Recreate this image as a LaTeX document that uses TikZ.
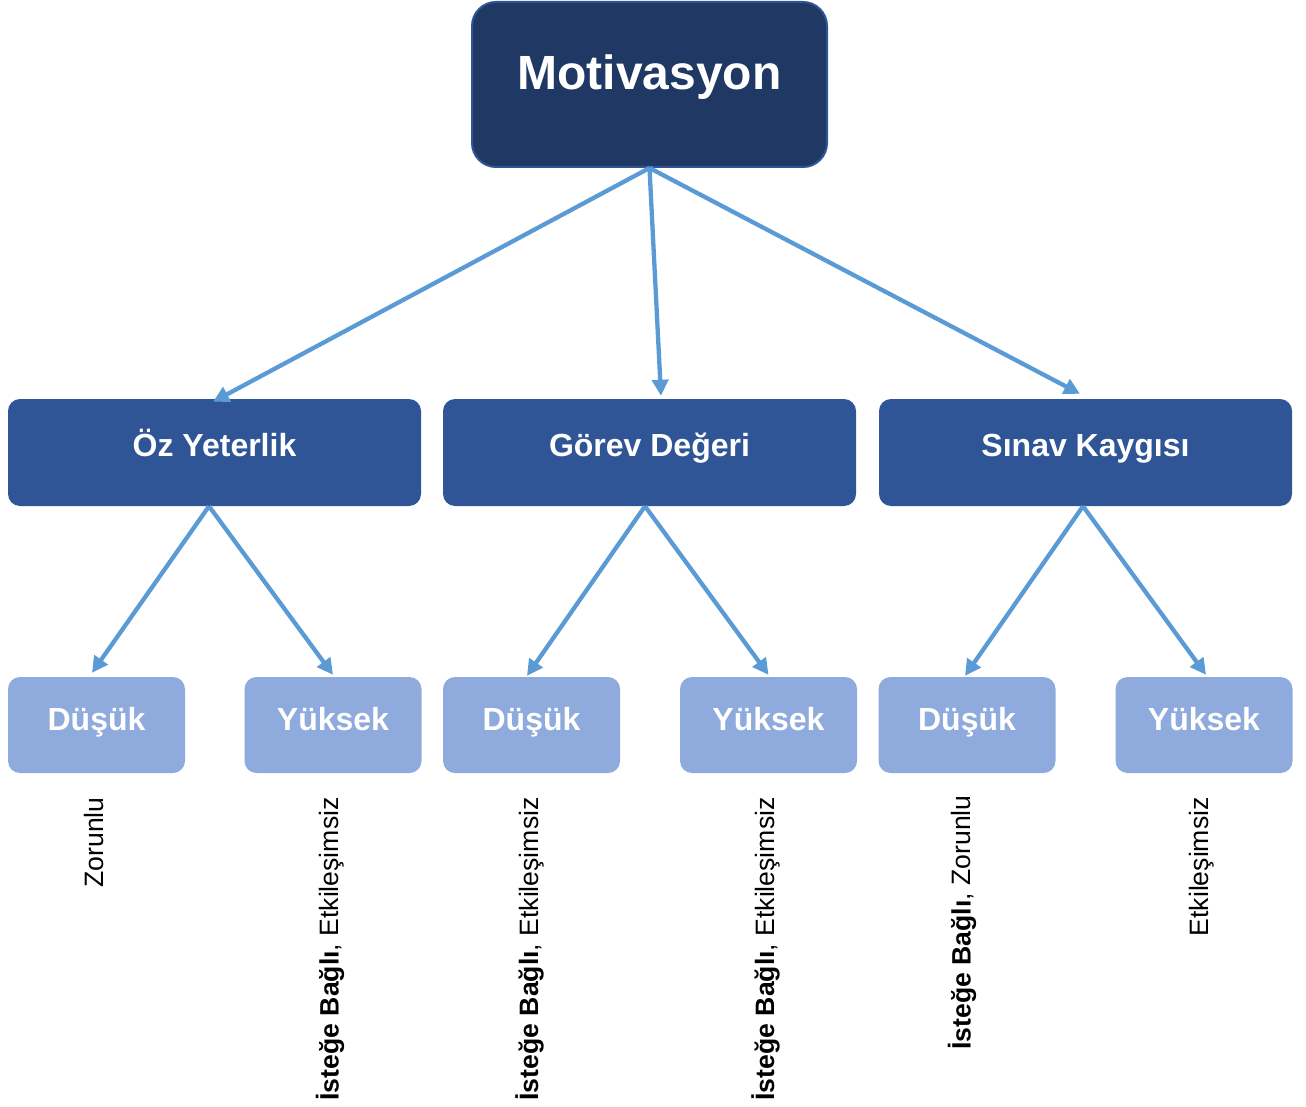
\documentclass[tikz,border=0pt]{standalone}
\usepackage{fontspec}
\setmainfont{Liberation Sans}
\usetikzlibrary{arrows.meta}

\definecolor{topblue}{HTML}{203864}
\definecolor{topedge}{HTML}{2F5597}
\definecolor{midblue}{HTML}{2F5597}
\definecolor{lowblue}{HTML}{8FAADC}
\definecolor{arrowblue}{HTML}{5B9BD5}

\begin{document}
\begin{tikzpicture}[x=1pt,y=-1pt,
		topbox/.style={draw=topedge, line width=2pt, fill=topblue, rounded corners=24pt,
			minimum width=355pt, minimum height=165pt, text=white,
			font=\bfseries\fontsize{48}{56}\selectfont, text height=36pt, text depth=25pt},
		midbox/.style={fill=midblue, rounded corners=12pt, minimum width=413pt, minimum height=107pt,
			text=white, font=\bfseries\fontsize{32}{38}\selectfont, text height=24pt, text depth=17pt},
		lowbox/.style={fill=lowblue, rounded corners=12pt, minimum width=177pt, minimum height=96pt,
			text=white, font=\bfseries\fontsize{32}{38}\selectfont, text height=24pt, text depth=14pt},
		note/.style={rotate=90, anchor=east, inner sep=0pt, font=\fontsize{26.6}{30}\selectfont},
		link/.style={draw=arrowblue, line width=4.3pt, -{Triangle[length=16pt,width=16pt]}}]
		\useasboundingbox (0,0) rectangle (1306,1107);
		% top level
		\node[topbox] (mot) at (649.5,84.5) {Motivasyon};
		% second level
		\node[midbox] (oz) at (214.5,452.5) {Öz Yeterlik};
		\node[midbox] (gorev) at (649.5,452.5) {Görev Değeri};
		\node[midbox] (sinav) at (1085.5,452.5) {Sınav Kaygısı};
		% third level
		\node[lowbox] (d1) at (96.5,725) {Düşük};
		\node[lowbox] (y1) at (333,725) {Yüksek};
		\node[lowbox] (d2) at (531.5,725) {Düşük};
		\node[lowbox] (y2) at (768.5,725) {Yüksek};
		\node[lowbox] (d3) at (967,725) {Düşük};
		\node[lowbox] (y3) at (1204,725) {Yüksek};
		% notes
		\node[note] (n1) at ([xshift=-3pt,yshift=-24pt]d1.south) {Zorunlu};
		\node[note] (n2) at ([xshift=-3pt,yshift=-24pt]y1.south) {\textbf{İsteğe Bağlı}, Etkileşimsiz};
		\node[note] (n3) at ([xshift=-2pt,yshift=-24pt]d2.south) {\textbf{İsteğe Bağlı}, Etkileşimsiz};
		\node[note] (n4) at ([xshift=-3pt,yshift=-24pt]y2.south) {\textbf{İsteğe Bağlı}, Etkileşimsiz};
		\node[note] (n5) at ([xshift=-5pt,yshift=-22pt]d3.south) {\textbf{İsteğe Bağlı}, Zorunlu};
		\node[note] (n6) at ([xshift=-2pt,yshift=-24pt]y3.south) {Etkileşimsiz};
		% arrows
		\draw[link] (mot.south) -- ([xshift=-1.5pt,yshift=-3pt]oz.north);
		\draw[link] (mot.south) -- ([xshift=11.5pt,yshift=3pt]gorev.north);
		\draw[link] (mot.south) -- ([xshift=-5.5pt,yshift=5pt]sinav.north);
		\draw[link] ([xshift=-5.5pt]oz.south) -- ([xshift=-4.5pt,yshift=4pt]d1.north);
		\draw[link] ([xshift=-5.5pt]oz.south) -- ([yshift=2pt]y1.north);
		\draw[link] ([xshift=-4.5pt]gorev.south) -- ([xshift=-4.5pt,yshift=1pt]d2.north);
		\draw[link] ([xshift=-4.5pt]gorev.south) -- ([yshift=2pt]y2.north);
		\draw[link] ([xshift=-2.5pt]sinav.south) -- ([xshift=-2pt,yshift=1pt]d3.north);
		\draw[link] ([xshift=-2.5pt]sinav.south) -- ([xshift=2pt,yshift=2pt]y3.north);
	\end{tikzpicture}
\end{document}
